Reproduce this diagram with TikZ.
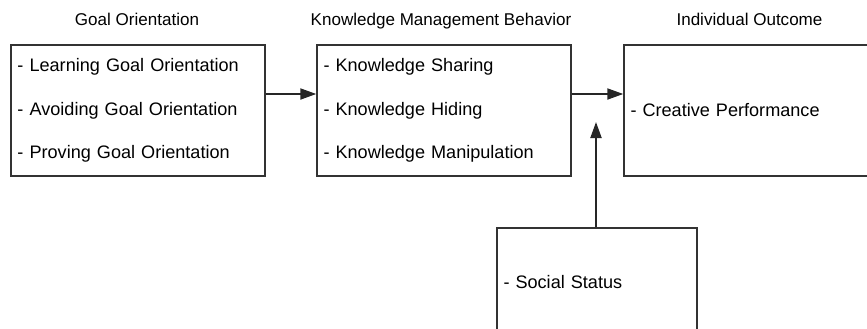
\documentclass[tikz,border=0pt]{standalone}
\usepackage{fontspec}
\setmainfont{Liberation Sans}
\usepackage{tikz}
\usetikzlibrary{positioning,arrows.meta}

\begin{document}
\begin{tikzpicture}

% \draw[step=0.5,gray,very thin] (0,-6.58) grid (17.34,0);
\useasboundingbox (0,0) rectangle (17.34,-6.58);
\clip (0,0) rectangle (17.34,-6.58);

\tikzstyle{conbox} = [fill=none, draw=black!80, line width=0.8pt, rectangle, inner sep=0.13cm, align=left, font=\fontsize{10.3pt}{24.7pt}\selectfont]
\tikzstyle{headtext} = [anchor=base, inner sep=0pt, font=\fontsize{9.7pt}{11pt}\selectfont]
\tikzstyle{conarrow} = [draw=black!85, line width=1.1pt, -{Triangle[length=0.32cm,width=0.22cm]}]

\node (goal) [conbox, minimum width=5.08cm, minimum height=2.62cm, text width=4.82cm] at (2.76,-2.21)
  {- Learning Goal Orientation\\ - Avoiding Goal Orientation\\ - Proving Goal Orientation};
\node (kmb) [conbox, minimum width=5.08cm, minimum height=2.62cm, text width=4.82cm] at (8.88,-2.21)
  {- Knowledge Sharing\\ - Knowledge Hiding\\ - Knowledge Manipulation};
\node (outcome) [conbox, minimum width=4.96cm, minimum height=2.62cm, text width=4.70cm] at (14.96,-2.21)
  {- Creative Performance};
\node (status) [conbox, minimum width=4.0cm, minimum height=2.16cm, text width=3.74cm] at (11.94,-5.64)
  {- Social Status};

\node (goaltitle) [headtext] at (2.74,-0.52) {Goal Orientation};
\node (kmbtitle) [headtext] at (8.82,-0.52) {Knowledge Management Behavior};
\node (outcometitle) [headtext] at (14.99,-0.52) {Individual Outcome};

\coordinate (tip) at (11.92,-2.44);

\draw [conarrow] ([yshift=0.33cm]goal.east) -- ([yshift=0.33cm]kmb.west);
\draw [conarrow] ([yshift=0.33cm]kmb.east) -- ([yshift=0.33cm]outcome.west);
\draw [conarrow] (status.north -| tip) -- (tip);

\end{tikzpicture}
\end{document}
